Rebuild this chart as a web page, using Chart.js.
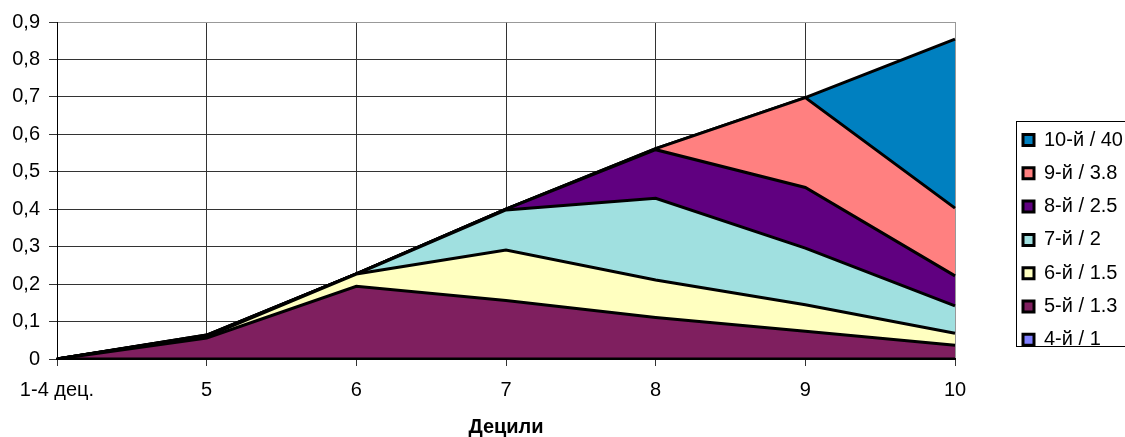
<!DOCTYPE html>
<html lang="ru">
<head>
  <meta charset="UTF-8">
  <title>Децили</title>
  <script src="https://cdn.jsdelivr.net/npm/chart.js"></script>
  <style>
    body {
      margin: 0;
      background: #fff;
    }
    #wrap {
      width: 1125px;
      height: 437px;
      position: relative;
    }
  </style>
</head>
<body>
  <div id="wrap">
    <canvas id="decileChart"></canvas>
  </div>

  <script>
    const deciles = ['1-4 дец.', '5', '6', '7', '8', '9', '10'];

    // values of each series (stacked on top of each other)
    const d4  = [0, 0,     0,     0,     0,     0,     0];
    const d5  = [0, 0.056, 0.194, 0.156, 0.111, 0.074, 0.037];
    const d6  = [0, 0.004, 0.033, 0.135, 0.100, 0.071, 0.032];
    const d7  = [0, 0.002, 0,     0.107, 0.218, 0.151, 0.073];
    const d8  = [0, 0.001, 0,     0.002, 0.130, 0.162, 0.080];
    const d9  = [0, 0.001, 0,     0,     0.003, 0.240, 0.181];
    const d10 = [0, 0,     0,     0,     0,     0,     0.451];

    const yTicks = [0, 0.1, 0.2, 0.3, 0.4, 0.5, 0.6, 0.7, 0.8, 0.9];

    const FONT = 'Arial, "Liberation Sans", sans-serif';
    const FS = 20;

    const series = [
      { label: '4-й / 1',   data: d4,  color: '#8080ff' },
      { label: '5-й / 1.3', data: d5,  color: '#7f1f5f' },
      { label: '6-й / 1.5', data: d6,  color: '#ffffc0' },
      { label: '7-й / 2',   data: d7,  color: '#a0e0e0' },
      { label: '8-й / 2.5', data: d8,  color: '#600080' },
      { label: '9-й / 3.8', data: d9,  color: '#ff8080' },
      { label: '10-й / 40', data: d10, color: '#0080c0' }
    ];

    // fixed legend column width, legend moved into place, then framed
    const legendBox = {
      id: 'legendBox',
      afterInit(chart) {
        const lg = chart.legend;
        if (!lg) return;
        const fit = lg.fit.bind(lg);
        lg.fit = function () { fit(); this.width = 170; };
      },
      afterLayout(chart) {
        const lg = chart.legend;
        lg.left = 1009.7;
        lg.top = 116.7;
        lg.bottom = 437;
      },
      afterDraw(chart) {
        const ctx = chart.ctx;
        ctx.save();
        ctx.strokeStyle = '#000';
        ctx.lineWidth = 1;
        ctx.strokeRect(1016.5, 121.5, 140, 225);
        ctx.restore();
      }
    };

    new Chart(document.getElementById('decileChart'), {
      type: 'line',
      data: {
        labels: deciles,
        datasets: series.map((s, i) => ({
          label: s.label,
          data: s.data,
          backgroundColor: s.color,
          borderColor: '#000',
          borderWidth: 3,
          pointRadius: 0,
          tension: 0,
          fill: i === 0 ? 'origin' : '-1'
        }))
      },
      options: {
        responsive: true,
        maintainAspectRatio: false,
        animation: false,
        layout: { padding: { top: 22, right: 0, left: 0, bottom: 0 } },
        plugins: {
          legend: {
            position: 'right',
            align: 'start',
            reverse: true,
            labels: {
              boxWidth: 11,
              boxHeight: 11,
              padding: 13.3,
              color: '#000',
              font: { family: FONT, size: FS }
            }
          },
          tooltip: { enabled: false }
        },
        scales: {
          x: {
            offset: false,
            grid: {
              color: c => c.index === deciles.length - 1 ? '#999' : '#333',
              tickColor: '#333',
              tickLength: 7
            },
            border: { color: '#000', width: 2 },
            ticks: {
              color: '#000',
              maxRotation: 0,
              padding: 12,
              font: { family: FONT, size: FS }
            },
            title: {
              display: true,
              text: 'Децили',
              color: '#000',
              padding: { top: 0, bottom: 0 },
              font: { family: FONT, size: FS, weight: 'bold', lineHeight: 1 }
            },
            afterFit: s => { s.height = 78; }
          },
          y: {
            stacked: true,
            min: 0,
            max: 0.9,
            afterBuildTicks: s => { s.ticks = yTicks.map(v => ({ value: v })); },
            grid: {
              color: c => c.tick && c.tick.value >= 0.9 ? '#999' : '#333',
              tickColor: '#333',
              tickLength: 8
            },
            border: { color: '#000', width: 1 },
            ticks: {
              color: '#000',
              padding: 9,
              font: { family: FONT, size: FS },
              callback: v => v === 0 ? '0' : v.toFixed(1).replace('.', ',')
            },
            afterFit: s => { s.width = 57; }
          }
        }
      },
      plugins: [legendBox]
    });
  </script>
</body>
</html>
